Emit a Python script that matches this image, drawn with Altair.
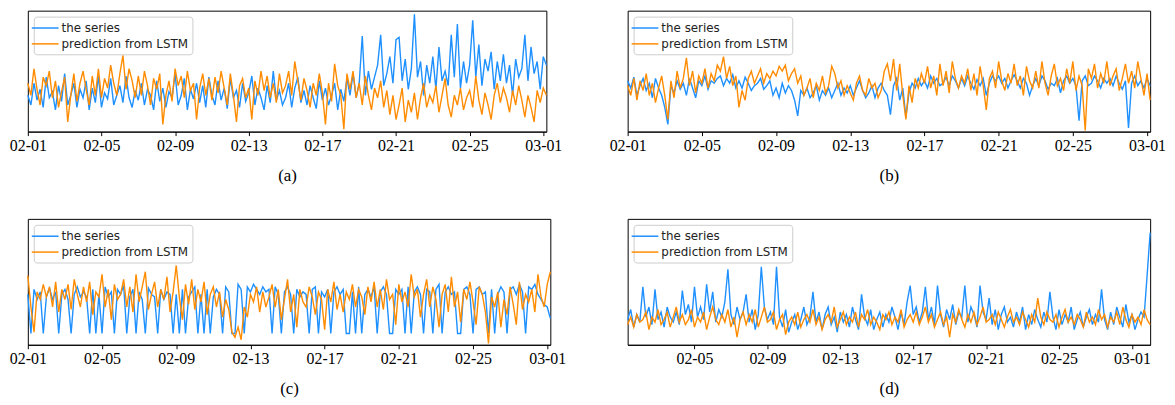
import pandas as pd
import altair as alt

# ---------------- data (values in % of plot height) ----------------
# panel (a): 4-hourly points from 2019-02-01 00:00
a_series = [
    30, 22, 40, 26, 35, 20,  45, 28, 33, 18, 38, 25,  48, 22, 30, 40, 20, 35,
    28, 42, 18, 36, 24, 46,  20, 32, 27, 44, 22, 30,  38, 24, 46, 28, 20, 34,
    26, 40, 22, 35, 30, 18,  42, 25, 36, 20, 33, 28,  48, 22, 30, 44, 18, 35,
    27, 40, 24, 38, 20, 45,  30, 22, 42, 26, 36, 19,  44, 28, 34, 20, 40, 25,
    32, 46, 22, 36, 28, 18,  38, 24, 50, 26, 34, 22,  28, 40, 20, 36, 45, 24,
    34, 22, 38, 28, 19, 42,  26, 36, 22, 30, 40, 18,  35, 25, 44, 30, 48, 28,
    40, 79, 30, 50, 35, 45,  55, 80, 38, 48, 62, 40,  76, 78, 42, 60, 35, 52,
    97, 45, 58, 30, 55, 40,  62, 35, 70, 42, 50, 38,  80, 45, 89, 36, 58, 40,
    55, 92, 45, 72, 38, 60,  50, 66, 35, 58, 42, 64,  40, 55, 30, 60, 45, 52,
    80, 42, 70, 48, 58, 35,  62, 55,
]
a_pred = [
    40, 30, 52, 35, 22, 45,  38, 50, 28, 42, 20, 33,  45, 8, 30, 48, 25, 40,
    50, 35, 22, 46, 30, 52,  28, 44, 36, 55, 40, 30,  48, 63, 35, 52, 42, 28,
    46, 30, 50, 38, 22, 44,  35, 48, 6, 30, 42, 25,  52, 38, 46, 28, 50, 34,
    40, 10, 36, 48, 30, 44,  26, 45, 32, 50, 36, 22,  48, 30, 8, 38, 44, 28,
    36, 10, 42, 30, 50, 34,  46, 28, 40, 24, 48, 32,  38, 50, 30, 58, 42, 26,
    44, 34, 20, 40, 30, 48,  32, 6, 40, 25, 56, 38,  30, 2, 48, 35, 50, 28,
    40, 22, 46, 30, 18, 36,  28, 42, 20, 34, 14, 30,  10, 22, 36, 8, 26, 16,
    32, 10, 28, 40, 20, 30,  24, 38, 16, 30, 44, 22,  12, 30, 22, 36, 18, 28,
    34, 20, 46, 26, 14, 32,  22, 10, 30, 40, 24, 36,  28, 16, 34, 22, 38, 26,
    12, 30, 20, 8, 34, 24,  36, 30,
]

# panel (b)
b_series = [
    42, 36, 45, 30, 38, 44,  34, 40, 28, 44, 36, 30,  20, 6, 38, 32, 42, 35,
    40, 30, 44, 36, 28, 42,  38, 46, 35, 42, 40, 44,  46, 38, 44, 40, 47, 36,
    42, 36, 45, 40, 34, 38,  40, 44, 35, 38, 42, 30,  36, 28, 40, 32, 38, 34,
    26, 13, 34, 30, 36, 28,  32, 38, 26, 34, 30, 36,  28, 34, 40, 30, 36, 32,
    38, 30, 36, 42, 34, 28,  32, 38, 28, 36, 40, 34,  30, 14, 38, 44, 26, 36,
    12, 32, 40, 36, 44, 38,  42, 36, 46, 40, 44, 38,  40, 45, 38, 46, 42, 36,
    44, 38, 46, 40, 35, 43,  38, 44, 30, 40, 46, 42,  46, 40, 44, 36, 42, 47,
    42, 36, 44, 40, 30, 38,  44, 38, 46, 42, 35, 40,  38, 44, 32, 42, 46, 40,
    44, 38, 9, 42, 46, 38,  40, 46, 42, 36, 44, 40,  44, 38, 46, 40, 35, 42,
    3, 40, 46, 38, 42, 36,  44, 38,
]
b_pred = [
    38, 30, 44, 26, 42, 34,  48, 30, 40, 24, 36, 46,  30, 10, 42, 28, 50, 36,
    44, 61, 38, 50, 32, 46,  40, 52, 36, 48, 42, 55,  50, 62, 44, 54, 38, 46,
    20, 34, 26, 44, 50, 40,  46, 52, 40, 48, 44, 50,  46, 54, 50, 55, 42, 48,
    52, 40, 46, 30, 36, 44,  28, 40, 34, 46, 32, 38,  54, 48, 36, 42, 30, 38,
    32, 26, 40, 46, 34, 30,  44, 36, 40, 28, 34, 50,  56, 42, 60, 34, 56, 30,
    10, 38, 24, 44, 36, 48,  40, 54, 36, 46, 30, 56,  38, 50, 32, 58, 44, 36,
    46, 40, 52, 34, 48, 30,  54, 38, 18, 44, 50, 36,  58, 42, 34, 48, 40, 56,
    38, 46, 30, 54, 42, 36,  50, 36, 58, 40, 30, 46,  56, 38, 44, 34, 52, 40,
    58, 34, 46, 38, 1, 52,  44, 56, 36, 48, 40, 58,  38, 46, 52, 34, 44, 56,
    40, 50, 36, 58, 44, 30,  48, 26,
]

# panel (c)
c_series = [
    40, 9, 44, 36, 42, 9,  38, 45, 36, 42, 9, 40,  44, 36, 9, 40, 46, 38,
    42, 38, 9, 44, 9, 40,  9, 46, 38, 42, 9, 44,  40, 47, 9, 38, 44, 9,
    42, 36, 9, 45, 40, 38,  9, 44, 36, 42, 40, 9,  40, 9, 44, 9, 38, 42,
    46, 9, 40, 9, 44, 9,  38, 44, 40, 9, 46, 42,  9, 9, 48, 44, 9, 46,
    42, 48, 44, 40, 46, 42,  44, 9, 46, 40, 9, 42,  46, 40, 9, 44, 38, 42,
    40, 9, 44, 46, 9, 42,  38, 44, 9, 42, 46, 40,  44, 9, 9, 42, 9, 46,
    9, 40, 44, 38, 46, 9,  42, 46, 40, 9, 9, 44,  40, 44, 9, 46, 9, 42,
    46, 40, 9, 44, 42, 9,  44, 48, 9, 42, 46, 40,  42, 9, 9, 44, 46, 40,
    9, 44, 46, 40, 42, 9,  44, 9, 40, 46, 42, 9,  44, 46, 40, 48, 42, 9,
    46, 44, 48, 40, 36, 32,  30, 21,
]
c_pred = [
    55, 30, 10, 42, 36, 48,  38, 46, 30, 50, 26, 44,  36, 48, 28, 52, 40, 30,
    46, 34, 50, 24, 42, 38,  56, 30, 44, 20, 48, 36,  40, 52, 30, 46, 26, 56,
    34, 46, 58, 28, 40, 50,  30, 44, 36, 54, 26, 42,  63, 38, 20, 48, 32, 52,
    28, 44, 34, 50, 24, 40,  46, 30, 42, 22, 36, 28,  10, 6, 14, 4, 30, 22,
    40, 34, 46, 26, 42, 30,  38, 48, 30, 44, 20, 36,  52, 26, 40, 14, 44, 34,
    30, 46, 38, 24, 42, 36,  12, 44, 34, 50, 28, 40,  26, 42, 36, 48, 30, 44,
    38, 24, 46, 34, 50, 30,  44, 28, 52, 36, 40, 16,  48, 34, 42, 30, 56, 38,
    44, 22, 40, 52, 30, 46,  36, 14, 40, 48, 26, 54,  30, 42, 18, 44, 36, 50,
    34, 16, 46, 40, 26, 1,  38, 30, 42, 14, 36, 24,  46, 32, 16, 50, 28, 40,
    34, 44, 26, 56, 38, 30,  48, 58,
]

# panel (d): 4-hourly points from 2019-02-01 08:00
d_series = [
    20, 28, 14, 24, 18, 46,  22, 30, 16, 44, 20, 26,  14, 30, 22, 18, 26, 16,
    43, 24, 32, 18, 46, 22,  30, 20, 48, 26, 42, 18,  28, 22, 34, 60, 24, 16,
    30, 20, 26, 40, 18, 28,  12, 24, 62, 30, 20, 26,  16, 62, 22, 14, 28, 10,
    18, 24, 12, 20, 30, 16,  22, 42, 18, 26, 12, 24,  30, 16, 22, 10, 26, 18,
    24, 14, 30, 20, 12, 40,  22, 16, 28, 12, 20, 26,  14, 24, 18, 30, 22, 12,
    26, 16, 34, 47, 24, 30,  18, 26, 46, 20, 30, 16,  47, 24, 14, 28, 20, 32,
    16, 26, 22, 47, 18, 30,  24, 14, 47, 26, 20, 37,  16, 28, 12, 24, 30, 18,
    22, 14, 26, 18, 30, 12,  24, 16, 28, 20, 14, 26,  18, 42, 22, 12, 28, 16,
    24, 18, 30, 12, 20, 26,  14, 22, 28, 16, 24, 18,  44, 20, 12, 26, 16, 30,
    22, 14, 32, 18, 24, 12,  20, 26, 22, 55, 89,
]
d_pred = [
    16, 22, 14, 24, 18, 20,  26, 12, 22, 18, 28, 16,  20, 26, 14, 22, 30, 18,
    24, 16, 20, 28, 14, 22,  18, 26, 12, 22, 30, 20,  16, 24, 18, 28, 14, 22,
    6, 20, 26, 16, 24, 18,  28, 14, 22, 30, 18, 20,  26, 12, 20, 24, 8, 18,
    22, 16, 26, 14, 20, 24,  18, 28, 16, 22, 12, 20,  24, 18, 30, 14, 20, 26,
    16, 22, 18, 26, 14, 24,  20, 28, 16, 22, 18, 12,  24, 20, 26, 16, 22, 18,
    28, 14, 20, 24, 18, 26,  16, 22, 30, 18, 24, 14,  20, 26, 16, 22, 6, 24,
    18, 28, 20, 14, 24, 18,  26, 16, 22, 30, 18, 20,  24, 16, 26, 20, 14, 22,
    28, 18, 22, 16, 26, 20,  14, 24, 18, 37, 22, 16,  26, 20, 18, 24, 14, 22,
    28, 18, 22, 16, 24, 20,  14, 26, 18, 22, 16, 28,  20, 24, 14, 22, 18, 26,
    16, 30, 20, 14, 24, 18,  22, 16, 28, 20, 16,
]

SERIES = ["the series", "prediction from LSTM"]
COLORS = ["#1E90FF", "#FF8C00"]

TICKS_FULL = [(2, 1), (2, 5), (2, 9), (2, 13), (2, 17), (2, 21), (2, 25), (3, 1)]
TICKS_D = TICKS_FULL[1:]


def times(start, n):
    return [t.strftime("%Y-%m-%dT%H:%M:%S") for t in pd.date_range(start, periods=n, freq="4h")]


def panel(start, s_vals, p_vals, w, h, ticks, caption):
    df = pd.DataFrame({
        "t": times(start, len(s_vals)) + times(start, len(p_vals)),
        "v": s_vals + p_vals,
        "s": [SERIES[0]] * len(s_vals) + [SERIES[1]] * len(p_vals),
    })
    base = alt.Chart(df)
    x = alt.X(
        "t:T",
        scale=alt.Scale(nice=False),
        axis=alt.Axis(
            values=[alt.DateTime(year=2019, month=m, date=d) for m, d in ticks],
            format="%m-%d",
            labelFlush=False,
            labelOverlap=False,
            grid=False,
            tickSize=4,
            labelPadding=2,
            labelFont="Liberation Serif",
            labelFontSize=16,
            labelColor="black",
            tickColor="black",
            domainColor="black",
            title=caption,
            titleFont="Liberation Serif",
            titleFontSize=17,
            titleFontWeight="normal",
            titleColor="black",
            titlePadding=14,
        ),
    )
    y = alt.Y("v:Q", scale=alt.Scale(domain=[0, 100], nice=False, zero=False), axis=None)
    color = alt.Color(
        "s:N",
        scale=alt.Scale(domain=SERIES, range=COLORS),
        legend=alt.Legend(
            title=None,
            orient="top-left",
            offset=6,
            fillColor="white",
            strokeColor="#cccccc",
            cornerRadius=3,
            padding=4,
            labelFont="DejaVu Sans",
            labelFontSize=12,
            labelColor="#222222",
            symbolType="M-2,0H2",
            symbolSize=182,
            symbolStrokeWidth=1.5,
            labelOffset=9,
            rowPadding=2,
        ),
    )
    blue = base.transform_filter(alt.datum.s == SERIES[0]).mark_line(strokeWidth=1.4).encode(x=x, y=y, color=color)
    orange = base.transform_filter(alt.datum.s == SERIES[1]).mark_line(strokeWidth=1.4).encode(x=x, y=y, color=color)
    return alt.layer(blue, orange).properties(width=w, height=h)


pa = panel("2019-02-01 00:00", a_series, a_pred, 523, 122, TICKS_FULL, "(a)")
pb = panel("2019-02-01 00:00", b_series, b_pred, 527, 122, TICKS_FULL, "(b)")
pc = panel("2019-02-01 00:00", c_series, c_pred, 527, 127, TICKS_FULL, "(c)")
pd_ = panel("2019-02-01 08:00", d_series, d_pred, 527, 127, TICKS_D, "(d)")

chart = (
    alt.concat(pa, pb, pc, pd_, columns=2, spacing={"row": 88, "column": 78},
               bounds="flush", align="none")
    .resolve_scale(color="independent")
    .resolve_legend(color="independent")
    .properties(padding={"left": 0, "top": 0, "right": 0, "bottom": 0})
    .configure_view(stroke="black", strokeWidth=1)
)

chart.save("out.html", embed_options={"renderer": "svg", "actions": False})
